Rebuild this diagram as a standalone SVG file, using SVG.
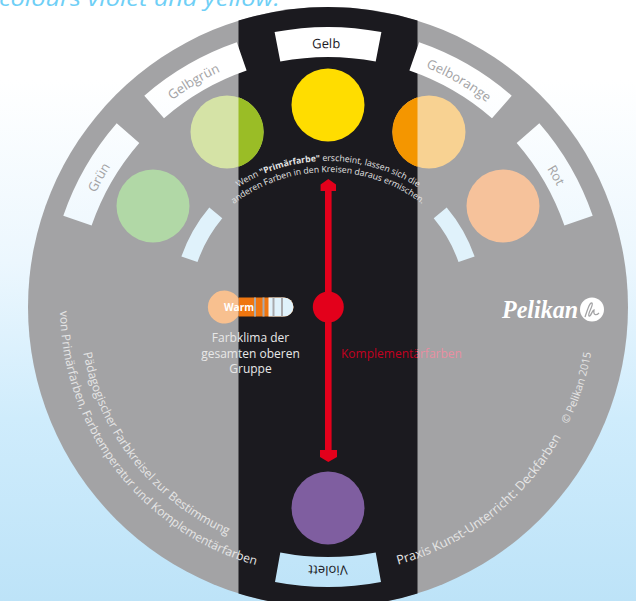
<svg xmlns="http://www.w3.org/2000/svg" width="636" height="601" viewBox="0 0 636 601">
<style>
text{font-family:"Open Sans","Noto Sans","Liberation Sans",sans-serif}
.win{fill:url(#bg)}
.lab{font-size:13px;fill:#a3a3a5;text-anchor:middle}
.small{fill:#e0f2fb}
.arc{font-size:12px;fill:#e6e6e6}
.tip{font-size:8.7px;fill:#e4e4e4}
.cli{font-size:12px;fill:#e8e8e8;text-anchor:middle}
</style>
<defs>
<linearGradient id="bg" gradientUnits="userSpaceOnUse" x1="0" y1="80" x2="0" y2="601">
<stop offset="0" stop-color="#ffffff"/><stop offset="0.35" stop-color="#ecf7fe"/><stop offset="0.65" stop-color="#cfecfc"/><stop offset="1" stop-color="#bde3f8"/>
</linearGradient>
<linearGradient id="kompl" gradientUnits="userSpaceOnUse" x1="0" y1="0" x2="636" y2="0">
<stop offset="0.6557" stop-color="#c4001f"/><stop offset="0.6557" stop-color="#e98da0"/>
</linearGradient>
<path id="labArc" d="M 69 307 A 259 259 0 0 1 587 307"/>
<path id="tip1" d="M 162 327 A 166 166 0 0 1 494 327"/>
<path id="tip2" d="M 173 327 A 155 155 0 0 1 483 327"/>
<path id="lowL1" d="M 79 307 A 249 249 0 0 0 577 307"/>
<path id="lowL2" d="M 60 307 A 268 268 0 0 0 596 307"/>
<path id="lowR" d="M 61 307 A 267 267 0 0 0 595 307"/>
</defs>
<rect id="background" width="636" height="601" fill="url(#bg)"/>
<text id="heading" x="-1" y="5.500" font-size="22" font-style="italic" font-weight="500" fill="#6fcff6" textLength="281" lengthAdjust="spacingAndGlyphs">colours violet and yellow.</text>
<g id="disc">
<circle cx="328" cy="307" r="300" fill="#a3a3a5"/>
<path d="M 238.5 20.6 A 300 300 0 0 1 417.5 20.6 L 417.5 593.4 A 300 300 0 0 1 238.5 593.4 Z" fill="#1b1a1f"/>
</g>
<g id="node-gelb">
<path d="M274.6 32.1A280 280 0 0 1 381.4 32.1L375.7 61.6A250 250 0 0 0 280.3 61.6Z" fill="#fff"/>
<circle cx="328" cy="105" r="36.5" fill="#ffdd00"/>
<text class="lab" style="fill:#1b1a1f" transform="rotate(-0.4 328 307)"><textPath href="#labArc" startOffset="50%">Gelb</textPath></text>
</g>
<g id="node-gelbgruen">
<path class="win" d="M144.3 95.7A280 280 0 0 1 236.8 42.3L246.6 70.6A250 250 0 0 0 164 118.3Z"/>
<circle cx="227" cy="132" r="36.5" fill="#d5e3a6"/>
<path d="M238.500 97.300A36.500 36.500 0 0 1 238.500 166.700Z" fill="#9abd26"/>
<text class="lab" transform="rotate(-30.800 328 307)"><textPath href="#labArc" startOffset="50%">Gelbgrün</textPath></text>
</g>
<g id="node-gruen">
<path class="win" d="M63.3 215.8A280 280 0 0 1 116.7 123.3L139.3 143A250 250 0 0 0 91.6 225.6Z"/>
<circle cx="153" cy="206" r="36.5" fill="#b1d8a6"/>
<text class="lab" transform="rotate(-60.500 328 307)"><textPath href="#labArc" startOffset="50%">Grün</textPath></text>
</g>
<g id="node-gelborange">
<path class="win" d="M419.2 42.3A280 280 0 0 1 511.7 95.7L492 118.3A250 250 0 0 0 409.4 70.6Z"/>
<circle cx="429" cy="132" r="36.5" fill="#f8d292"/>
<path d="M417.500 97.300A36.500 36.500 0 0 0 417.500 166.700Z" fill="#f49600"/>
<text class="lab" transform="rotate(30 328 307)"><textPath href="#labArc" startOffset="50%">Gelborange</textPath></text>
</g>
<g id="node-rot">
<path class="win" d="M539.3 123.3A280 280 0 0 1 592.7 215.8L564.4 225.6A250 250 0 0 0 516.7 143Z"/>
<circle cx="503" cy="206" r="36.5" fill="#f6c29b"/>
<text class="lab" transform="rotate(60 328 307)"><textPath href="#labArc" startOffset="50%">Rot</textPath></text>
</g>
<g id="node-violett">
<path class="win" d="M275 581.9A280 280 0 0 0 381 581.9L375.7 552.4A250 250 0 0 1 280.3 552.4Z"/>
<circle cx="328" cy="508" r="36.5" fill="#7f5ea0"/>
<text class="lab" style="fill:#1b1a1f" transform="rotate(180 328 307)"><textPath href="#labArc" startOffset="50%">Violett</textPath></text>
</g>
<g id="small-windows">
<path class="small" d="M209.3 207.4A155 155 0 0 0 181.4 256.5L197.5 262.1A138 138 0 0 1 222.3 218.3Z"/>
<path class="small" d="M446.7 207.4A155 155 0 0 1 474.6 256.5L458.5 262.1A138 138 0 0 0 433.7 218.3Z"/>
</g>
<g id="connectors">
<path d="M325 190H331.6V457H325Z" fill="#e3001b"/>
<path d="M328.3 179L336 184.5V191H320.6V184.5Z" fill="#e3001b"/>
<path d="M328.3 462L337 457V450H320V457Z" fill="#e3001b"/>
</g>
<g id="node-center"><circle cx="328.3" cy="307" r="15.5" fill="#e3001b"/></g>
<g id="node-klima">
<path d="M238.500 297.500H284A9.500 9.500 0 0 1 284 316.500H238.500Z" fill="#ef7610"/>
<path d="M270 297.500H284A9.500 9.500 0 0 1 284 316.500H270Z" fill="#e0f2fb"/>
<g fill="#a9aaad"><rect x="254" y="297.500" width="2" height="19"/><rect x="262.500" y="297.500" width="2" height="19"/><rect x="272.500" y="297.500" width="2" height="19"/><rect x="281" y="297.500" width="2" height="19"/></g>
<rect x="268.500" y="297.500" width="1.500" height="19" fill="#f4f4f4"/>
<path d="M238.500 298.500A16.500 16.500 0 1 0 238.500 315.500Z" fill="#f8c08f"/>
<text x="239" y="311" font-size="10" font-weight="700" fill="#fff" text-anchor="middle">Warm</text>
<text class="cli" x="250.500" y="342">Farbklima der</text>
<text class="cli" x="250.500" y="357.500">gesamten oberen</text>
<text class="cli" x="250.500" y="373">Gruppe</text>
</g>
<text id="komplementaer" x="341" y="357.500" font-size="12" fill="url(#kompl)">Komplementärfarben</text>
<g id="tip">
<text class="tip" text-anchor="middle"><textPath href="#tip1" startOffset="50%">Wenn <tspan font-weight="700">"Primärfarbe"</tspan> erscheint, lassen sich die</textPath></text>
<text class="tip" text-anchor="middle"><textPath href="#tip2" startOffset="50%">anderen Farben in den Kreisen daraus ermischen.</textPath></text>
</g>
<g id="rim-text">
<text class="arc"><textPath href="#lowL1" startOffset="46">Pädagogischer Farbkreisel zur Bestimmung</textPath></text>
<text class="arc"><textPath href="#lowL2" startOffset="4">von Primärfarben, Farbtemperatur und Komplementärfarben</textPath></text>
<text class="arc" style="font-size:12.700px"><textPath href="#lowR" startOffset="490">Praxis Kunst-Unterricht: Deckfarben</textPath></text>
<text class="arc" style="font-size:10.800px"><textPath href="#lowR" startOffset="717">© Pelikan 2015</textPath></text>
</g>
<g id="logo">
<text x="502" y="318" font-size="25" font-weight="700" font-style="italic" fill="#fff" style="font-family:'Liberation Serif',serif" textLength="76" lengthAdjust="spacingAndGlyphs">Pelikan</text>
<circle cx="592" cy="309.500" r="12" fill="#fff"/>
<path d="M585 317C588 308 590 302 592 303C594 305 587 314 589 316C591 317 592 310 594 310C593 315 596 316 599 313" fill="none" stroke="#a3a3a5" stroke-width="1.300"/>
</g>
</svg>
